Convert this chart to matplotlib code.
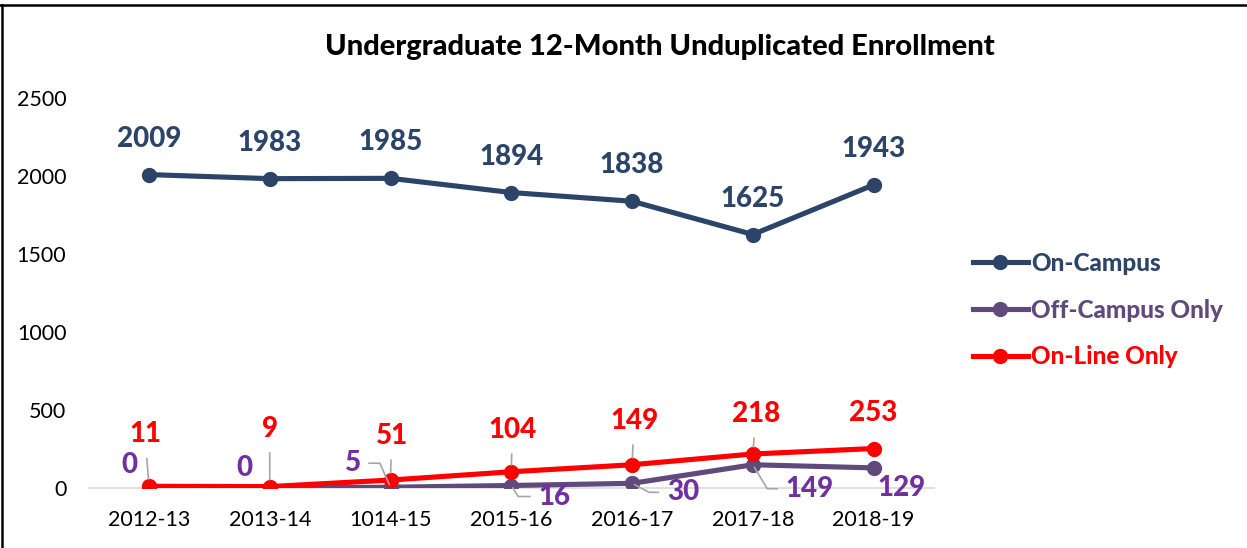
import matplotlib
matplotlib.use("Agg")
import matplotlib.pyplot as plt
from matplotlib.lines import Line2D

plt.rcParams['font.family'] = ['Lato', 'DejaVu Sans']

# chart data
years = ['2012-13', '2013-14', '1014-15', '2015-16', '2016-17', '2017-18', '2018-19']
on_campus = [2009, 1983, 1985, 1894, 1838, 1625, 1943]
off_campus = [0, 0, 5, 16, 30, 149, 129]
online = [11, 9, 51, 104, 149, 218, 253]

navy = '#2C4468'
purple_line = '#604A7B'
purple_text = '#7030A0'
red = '#FF0000'
leader = '#A6A6A6'

# label offsets in pixels (dx, dy) and leader line styles
online_off = [(-4, 52), (0, 58), (1, 44), (1, 42), (2, 44), (3, 40), (0, 36)]
online_lead = [True, True, True, True, True, True, False]
off_off = [(-20, 23), (-25, 20), (-38, 24), (43, -11), (51, -9), (57, -24), (28, -20)]
off_conn = [None, None, "angle,angleA=0,angleB=114,rad=0",
            "angle,angleA=180,angleB=-58,rad=0", "angle,angleA=180,angleB=-28,rad=0",
            "angle,angleA=180,angleB=-59,rad=0", None]

fig = plt.figure(figsize=(12.47, 5.48), dpi=100)
ax = fig.add_axes([88.6 / 1247, 1 - 488 / 548, (934 - 88.6) / 1247, 390 / 548])

x = range(len(years))
lw, ms = 3.7, 10
ax.plot(x, on_campus, color=navy, lw=lw, marker='o', ms=ms, label='On-Campus', zorder=3)
ax.plot(x, off_campus, color=purple_line, lw=lw, marker='o', ms=ms, label='Off-Campus Only', zorder=3)
ax.plot(x, online, color=red, lw=lw, marker='o', ms=ms, label='On-Line Only', zorder=4)

lab_font = dict(fontsize=20, fontweight='black', ha='center', va='center')

for i, v in enumerate(on_campus):
    ax.annotate(str(v), (i, v), xytext=(0, 36), textcoords='offset pixels',
                color=navy, **lab_font)

for i, v in enumerate(online):
    arrow = None
    if online_lead[i]:
        arrow = dict(arrowstyle='-', color=leader, lw=1.2, shrinkA=6, shrinkB=5)
    ax.annotate(str(v), (i, v), xytext=online_off[i], textcoords='offset pixels',
                color=red, arrowprops=arrow, zorder=5, **lab_font)

for i, v in enumerate(off_campus):
    arrow = None
    if off_conn[i]:
        arrow = dict(arrowstyle='-', color=leader, lw=1.2, shrinkA=4, shrinkB=2,
                     connectionstyle=off_conn[i])
    ax.annotate(str(v), (i, v), xytext=off_off[i], textcoords='offset pixels',
                color=purple_text, arrowprops=arrow, zorder=5, **lab_font)

ax.set_xlim(-0.5, len(years) - 0.5)
ax.set_ylim(0, 2500)
ax.set_yticks(range(0, 2501, 500))
ax.set_xticks(list(x))
ax.set_xticklabels(years)
ax.tick_params(axis='both', length=0, labelsize=15.5, colors='black')
ax.tick_params(axis='y', pad=16)
ax.tick_params(axis='x', pad=16)
for s in ['top', 'right', 'left']:
    ax.spines[s].set_visible(False)
ax.spines['bottom'].set_color('#D9D9D9')
ax.spines['bottom'].set_linewidth(1.2)
ax.spines['bottom'].set_zorder(1)

fig.text(660 / 1247, 1 - 47 / 548, 'Undergraduate 12-Month Unduplicated Enrollment',
         fontsize=21, fontweight='black', ha='center', va='center')

ax.legend(loc='center left', bbox_to_anchor=(973 / 1247, 1 - 310 / 548),
          bbox_transform=fig.transFigure, frameon=False, borderpad=0,
          borderaxespad=0, handlelength=2.26, handletextpad=0.12,
          labelspacing=0.97, labelcolor='linecolor',
          prop=dict(size=17.5, weight='black'))

# outer frame (top and left edges)
fig.add_artist(Line2D([0, 1], [1 - 5 / 548] * 2, transform=fig.transFigure, color='black', lw=1.8))
fig.add_artist(Line2D([2 / 1247] * 2, [0, 1 - 5 / 548], transform=fig.transFigure, color='black', lw=1.8))

fig.savefig('out.png', dpi=100)
